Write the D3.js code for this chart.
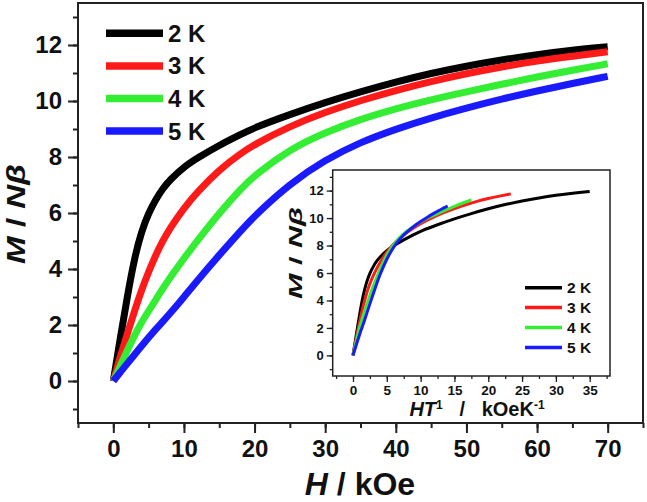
<!DOCTYPE html>
<html><head><meta charset="utf-8">
<script src="https://cdn.jsdelivr.net/npm/d3@7"></script>
<style>
html,body{margin:0;padding:0;background:#fff;}
svg{display:block;font-family:"Liberation Sans",Arial,sans-serif;font-weight:bold;}
</style></head>
<body><svg id="c" width="647" height="502"></svg>
<script>
// ---- data ----
const fieldH = [0,1,2,3,4,5,6,7,8,10,12,15,18,20,25,30,35,40,45,50,55,60,65,70];
const temps = [2,3,4,5];
const labels = ["2 K","3 K","4 K","5 K"];
const colors = ["#000000","#ff1a1a","#33ee33","#1a1aff"];
const m2K = [0,1.55,3.05,4.4,5.35,6.0,6.48,6.87,7.18,7.65,7.98,8.42,8.8,9.05,9.52,9.95,10.33,10.68,10.99,11.25,11.47,11.66,11.82,11.94];
const m3K = [0,0.88,1.7,2.5,3.25,3.9,4.5,5.0,5.45,6.18,6.78,7.55,8.12,8.45,9.1,9.6,10.02,10.38,10.7,10.98,11.22,11.43,11.6,11.76];
const m4K = [0,0.55,1.1,1.63,2.1,2.5,2.9,3.3,3.68,4.38,5.05,6.0,6.85,7.35,8.28,8.88,9.35,9.73,10.05,10.33,10.6,10.86,11.1,11.33];
const m5K = [0,0.32,0.63,0.94,1.25,1.55,1.85,2.12,2.4,3.0,3.62,4.5,5.35,5.9,7.05,7.9,8.53,9.0,9.4,9.75,10.07,10.36,10.63,10.88];
const series = [m2K,m3K,m4K,m5K];
const mainXTicks = [0,10,20,30,40,50,60,70];
const mainYTicks = [0,2,4,6,8,10,12];
const insetXTicks = [0,5,10,15,20,25,30,35];
const insetYTicks = [0,2,4,6,8,10,12];

const svg = d3.select("#c");
const frameCol = "#222";

// ---------- main plot ----------
const L=78,R=643,T=3,B=423;
const x = d3.scaleLinear().domain([-5,75]).range([L,R]);
const y = d3.scaleLinear().domain([-1.5,13.5]).range([B,T]);

function styleAxis(g, fs){
  g.select(".domain").remove();
  g.selectAll(".tick line").attr("stroke",frameCol).attr("stroke-width",fs>20?2:1.3);
  g.selectAll("text").attr("fill","#111").style("font-size",fs+"px").style("font-weight","bold");
}
// minor ticks
svg.append("g").attr("transform",`translate(0,${B})`)
  .call(d3.axisBottom(x).tickValues(d3.range(-5,76,5)).tickSize(5).tickFormat(""))
  .call(g=>styleAxis(g,24));
svg.append("g").attr("transform",`translate(${L},0)`)
  .call(d3.axisLeft(y).tickValues(d3.range(-1,14,1)).tickSize(5).tickFormat(""))
  .call(g=>styleAxis(g,24));
// major
svg.append("g").attr("transform",`translate(0,${B})`)
  .call(d3.axisBottom(x).tickValues(mainXTicks).tickSize(10).tickPadding(7).tickFormat(d3.format("d")))
  .call(g=>styleAxis(g,24));
svg.append("g").attr("transform",`translate(${L},0)`)
  .call(d3.axisLeft(y).tickValues(mainYTicks).tickSize(10).tickPadding(6).tickFormat(d3.format("d")))
  .call(g=>styleAxis(g,24));

svg.append("rect").attr("x",L).attr("y",T).attr("width",R-L).attr("height",B-T)
  .attr("fill","none").attr("stroke",frameCol).attr("stroke-width",2);

const line = d3.line().curve(d3.curveBasis);
series.forEach((s,i)=>{
  svg.append("path")
    .attr("d", line(fieldH.map((h,j)=>[x(h),y(s[j])])))
    .attr("fill","none").attr("stroke",colors[i]).attr("stroke-width",7)
    .attr("stroke-linecap","butt");
});

// main legend
labels.forEach((lab,i)=>{
  const ly = 33.3 + i*32.6;
  svg.append("line").attr("x1",106).attr("x2",163).attr("y1",ly).attr("y2",ly)
    .attr("stroke",colors[i]).attr("stroke-width",7.5);
  svg.append("text").attr("x",168).attr("y",ly+8.5).text(lab)
    .style("font-size","24px").attr("fill","#111");
});

// main axis titles
const xt = svg.append("text").attr("x",360).attr("y",495).attr("text-anchor","middle")
  .style("font-size","32px").attr("fill","#111");
xt.append("tspan").style("font-style","italic").text("H");
xt.append("tspan").text(" / kOe");

const yt = svg.append("text").attr("transform","translate(25,214) rotate(-90)")
  .attr("text-anchor","middle").style("font-size","26px").attr("fill","#111")
  .attr("textLength",100).attr("lengthAdjust","spacingAndGlyphs");
yt.append("tspan").style("font-style","italic").text("M");
yt.append("tspan").text(" / ");
yt.append("tspan").style("font-style","italic").text("Nβ");

// ---------- inset ----------
const iL=332.7,iR=610,iT=170,iB=376;
const ix = d3.scaleLinear().domain([-3,38]).range([iL,iR]);
const iy = d3.scaleLinear().domain([-1.5,13.5]).range([iB,iT]);
svg.append("rect").attr("x",iL).attr("y",iT).attr("width",iR-iL).attr("height",iB-iT).attr("fill","#fff");

svg.append("g").attr("transform",`translate(0,${iB})`)
  .call(d3.axisBottom(ix).tickValues(d3.range(-2.5,38,2.5)).tickSize(3).tickFormat(""))
  .call(g=>styleAxis(g,13));
svg.append("g").attr("transform",`translate(${iL},0)`)
  .call(d3.axisLeft(iy).tickValues(d3.range(-1,14,1)).tickSize(3).tickFormat(""))
  .call(g=>styleAxis(g,13));
svg.append("g").attr("transform",`translate(0,${iB})`)
  .call(d3.axisBottom(ix).tickValues(insetXTicks).tickSize(6).tickPadding(3).tickFormat(d3.format("d")))
  .call(g=>styleAxis(g,13.5));
svg.append("g").attr("transform",`translate(${iL},0)`)
  .call(d3.axisLeft(iy).tickValues(insetYTicks).tickSize(6).tickPadding(3).tickFormat(d3.format("d")))
  .call(g=>styleAxis(g,13));

svg.append("rect").attr("x",iL).attr("y",iT).attr("width",iR-iL).attr("height",iB-iT)
  .attr("fill","none").attr("stroke",frameCol).attr("stroke-width",1.5);

series.forEach((s,i)=>{
  svg.append("path")
    .attr("d", line(fieldH.map((h,j)=>[ix(h/temps[i]),iy(s[j])])))
    .attr("fill","none").attr("stroke",colors[i]).attr("stroke-width",3);
});

labels.forEach((lab,i)=>{
  const ly = 287.7 + i*19.9;
  svg.append("line").attr("x1",525).attr("x2",562).attr("y1",ly).attr("y2",ly)
    .attr("stroke",colors[i]).attr("stroke-width",3.5);
  svg.append("text").attr("x",567).attr("y",ly+5.5).text(lab)
    .style("font-size","15.5px").attr("fill","#111");
});

const ixt = svg.append("text").attr("x",477).attr("y",416).attr("text-anchor","middle")
  .style("font-size","20px").style("white-space","pre").attr("fill","#111");
ixt.append("tspan").style("font-style","italic").text("HT");
ixt.append("tspan").attr("dy",-7).style("font-size","12px").text("1");
ixt.append("tspan").attr("dy",7).text("   /   kOeK");
ixt.append("tspan").attr("dy",-7).style("font-size","12px").text("-1");

const iyt = svg.append("text").attr("transform","translate(301.5,253) rotate(-90)")
  .attr("text-anchor","middle").style("font-size","18px").attr("fill","#111")
  .attr("textLength",92).attr("lengthAdjust","spacingAndGlyphs");
iyt.append("tspan").style("font-style","italic").text("M");
iyt.append("tspan").text(" / ");
iyt.append("tspan").style("font-style","italic").text("Nβ");
</script></body></html>
